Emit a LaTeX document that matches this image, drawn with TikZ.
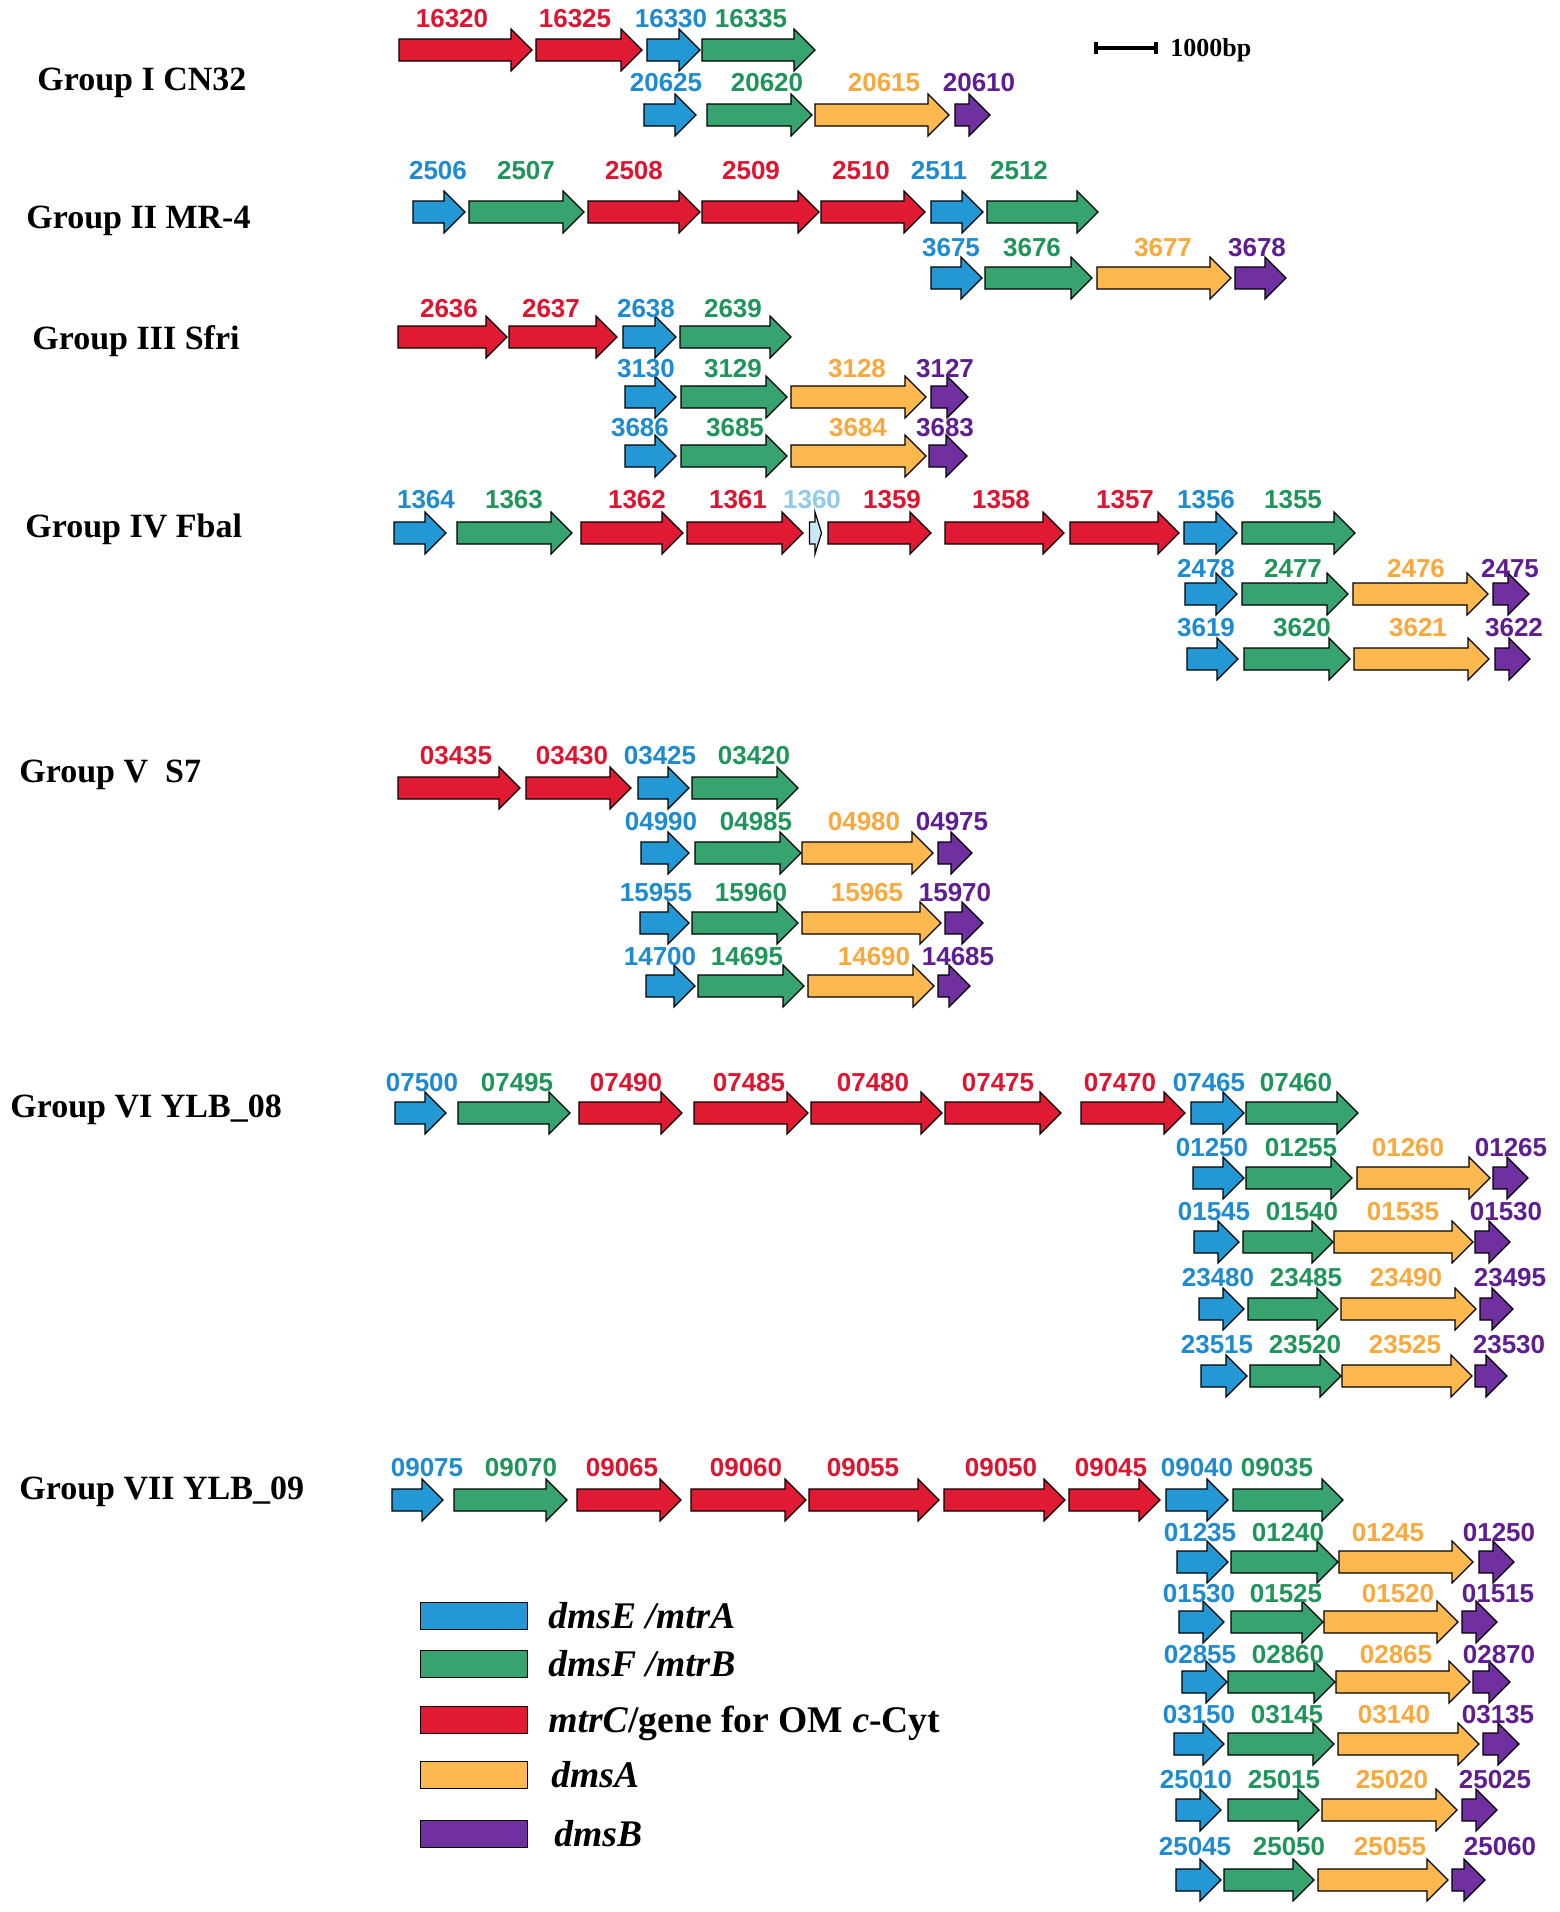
\documentclass[tikz,border=0pt]{standalone}
\usepackage{fontspec}
\setmainfont{Liberation Serif}
\newfontfamily\genefont{Liberation Sans}
\definecolor{cB}{HTML}{2498D5}
\definecolor{cG}{HTML}{37A46F}
\definecolor{cR}{HTML}{E01A33}
\definecolor{cO}{HTML}{FDB94F}
\definecolor{cP}{HTML}{7030A0}
\definecolor{cL}{HTML}{CBE7F6}
\definecolor{tB}{HTML}{1E8BD0}
\definecolor{tG}{HTML}{1F955A}
\definecolor{tR}{HTML}{DC1530}
\definecolor{tO}{HTML}{F9A83C}
\definecolor{tP}{HTML}{5E1E91}
\definecolor{tL}{HTML}{8FCBEA}
\tikzset{
  genearrow/.style={draw=black, line width=0.6pt, line join=miter},
  genelab/.style={font=\genefont\bfseries\fontsize{13}{13}\selectfont, anchor=base, inner sep=0pt},
  grouplab/.style={font=\bfseries\fontsize{17}{17}\selectfont, anchor=base west, inner sep=0pt},
  legbox/.style={draw=black, line width=0.8pt, minimum width=53.5pt, minimum height=13.5pt, inner sep=0pt},
  legtext/.style={font=\bfseries\fontsize{18.8}{18.8}\selectfont, anchor=base west, inner sep=0pt}
}
% #1 name, #2 colour key, #3 x start, #4 x tip, #5 y centre, #6 label, #7 label x, #8 label y
\newcommand\gn[8]{%
  \filldraw[genearrow, fill=c#2] (#3,#5-11) -- (#4-21,#5-11) -- (#4-21,#5-21) -- (#4,#5) -- (#4-21,#5+21) -- (#4-21,#5+11) -- (#3,#5+11) -- cycle;
  \node[genelab, text=t#2] (#1) at (#7,#8+9) {#6};
}
\begin{document}
\begin{tikzpicture}[x=0.5pt, y=-0.5pt]
\useasboundingbox[fill=white] (0,0) rectangle (1559,1912);

% group labels
\node[grouplab] (gI) at (37,90) {Group I CN32};
\node[grouplab] (gII) at (26,228) {Group II MR-4};
\node[grouplab] (gIII) at (32,349) {Group III Sfri};
\node[grouplab] (gIV) at (25,537) {Group IV Fbal};
\node[grouplab] (gV) at (19,782) {Group V\ \ S7};
\node[grouplab] (gVI) at (10,1117) {Group VI YLB\_08};
\node[grouplab] (gVII) at (19,1499) {Group VII YLB\_09};

% scale bar
\coordinate (sbL) at (1096,48);
\coordinate (sbR) at (1156,48);
\draw[line width=1.6pt] (sbL) -- (sbR);
\draw[line width=1.6pt] ([yshift=3pt]sbL) -- ([yshift=-3pt]sbL);
\draw[line width=1.6pt] ([yshift=3pt]sbR) -- ([yshift=-3pt]sbR);
\node[font=\bfseries\fontsize{13}{13}\selectfont, anchor=base west, inner sep=0pt] (sbt) at (1170,56) {1000bp};

% Group I
\gn{n16320}{R}{399}{532}{50}{16320}{452}{18}
\gn{n16325}{R}{536}{642}{50}{16325}{575}{18}
\gn{n16330}{B}{647}{700}{50}{16330}{671}{18}
\gn{n16335}{G}{702}{815}{50}{16335}{751}{18}
\gn{n20625}{B}{644}{696}{115}{20625}{666}{82}
\gn{n20620}{G}{707}{812}{115}{20620}{767}{82}
\gn{n20615}{O}{815}{949}{115}{20615}{884}{82}
\gn{n20610}{P}{955}{990}{115}{20610}{979}{82}

% Group II
\gn{n2506}{B}{413}{465}{212}{2506}{438}{170}
\gn{n2507}{G}{469}{584}{212}{2507}{526}{170}
\gn{n2508}{R}{588}{700}{212}{2508}{634}{170}
\gn{n2509}{R}{702}{819}{212}{2509}{751}{170}
\gn{n2510}{R}{821}{925}{212}{2510}{861}{170}
\gn{n2511}{B}{931}{983}{212}{2511}{939}{170}
\gn{n2512}{G}{987}{1098}{212}{2512}{1019}{170}
\gn{n3675}{B}{931}{982}{278}{3675}{951}{247}
\gn{n3676}{G}{985}{1092}{278}{3676}{1032}{247}
\gn{n3677}{O}{1097}{1231}{278}{3677}{1163}{247}
\gn{n3678}{P}{1235}{1286}{278}{3678}{1257}{247}

% Group III
\gn{n2636}{R}{398}{507}{337}{2636}{449}{308}
\gn{n2637}{R}{509}{617}{337}{2637}{551}{308}
\gn{n2638}{B}{623}{676}{337}{2638}{646}{308}
\gn{n2639}{G}{680}{791}{337}{2639}{733}{308}
\gn{n3130}{B}{625}{676}{397}{3130}{646}{368}
\gn{n3129}{G}{681}{787}{397}{3129}{733}{368}
\gn{n3128}{O}{791}{926}{397}{3128}{857}{368}
\gn{n3127}{P}{931}{968}{397}{3127}{945}{368}
\gn{n3686}{B}{625}{676}{456}{3686}{640}{427}
\gn{n3685}{G}{681}{787}{456}{3685}{735}{427}
\gn{n3684}{O}{791}{926}{456}{3684}{858}{427}
\gn{n3683}{P}{929}{967}{456}{3683}{945}{427}

% Group IV
\gn{n1364}{B}{394}{446}{533}{1364}{426}{499}
\gn{n1363}{G}{457}{572}{533}{1363}{514}{499}
\gn{n1362}{R}{581}{683}{533}{1362}{637}{499}
\gn{n1361}{R}{687}{803}{533}{1361}{738}{499}
\filldraw[genearrow, fill=cL] (809.5,522) -- (815,522) -- (815,512) -- (821.5,533) -- (815,554) -- (815,544) -- (809.5,544) -- cycle;
\node[genelab, text=tL] (n1360) at (812,508) {1360};
\gn{n1359}{R}{828}{931}{533}{1359}{892}{499}
\gn{n1358}{R}{945}{1064}{533}{1358}{1001}{499}
\gn{n1357}{R}{1070}{1179}{533}{1357}{1125}{499}
\gn{n1356}{B}{1184}{1237}{533}{1356}{1206}{499}
\gn{n1355}{G}{1242}{1355}{533}{1355}{1293}{499}
\gn{n2478}{B}{1185}{1237}{594}{2478}{1206}{568}
\gn{n2477}{G}{1242}{1348}{594}{2477}{1293}{568}
\gn{n2476}{O}{1353}{1488}{594}{2476}{1416}{568}
\gn{n2475}{P}{1493}{1529}{594}{2475}{1510}{568}
\gn{n3619}{B}{1187}{1238}{659}{3619}{1206}{627}
\gn{n3620}{G}{1244}{1350}{659}{3620}{1302}{627}
\gn{n3621}{O}{1354}{1489}{659}{3621}{1418}{627}
\gn{n3622}{P}{1495}{1530}{659}{3622}{1514}{627}

% Group V
\gn{n03435}{R}{398}{520}{788}{03435}{456}{755}
\gn{n03430}{R}{526}{631}{788}{03430}{572}{755}
\gn{n03425}{B}{638}{689}{788}{03425}{660}{755}
\gn{n03420}{G}{692}{798}{788}{03420}{754}{755}
\gn{n04990}{B}{641}{689}{853}{04990}{661}{821}
\gn{n04985}{G}{695}{801}{853}{04985}{756}{821}
\gn{n04980}{O}{802}{933}{853}{04980}{864}{821}
\gn{n04975}{P}{938}{972}{853}{04975}{952}{821}
\gn{n15955}{B}{640}{689}{923}{15955}{656}{892}
\gn{n15960}{G}{692}{798}{923}{15960}{751}{892}
\gn{n15965}{O}{802}{941}{923}{15965}{867}{892}
\gn{n15970}{P}{945}{983}{923}{15970}{955}{892}
\gn{n14700}{B}{646}{695}{986}{14700}{660}{956}
\gn{n14695}{G}{698}{804}{986}{14695}{747}{956}
\gn{n14690}{O}{808}{934}{986}{14690}{874}{956}
\gn{n14685}{P}{938}{970}{986}{14685}{958}{956}

% Group VI
\gn{n07500}{B}{395}{446}{1113}{07500}{422}{1082}
\gn{n07495}{G}{458}{570}{1113}{07495}{517}{1082}
\gn{n07490}{R}{579}{682}{1113}{07490}{626}{1082}
\gn{n07485}{R}{694}{808}{1113}{07485}{749}{1082}
\gn{n07480}{R}{811}{942}{1113}{07480}{873}{1082}
\gn{n07475}{R}{945}{1061}{1113}{07475}{998}{1082}
\gn{n07470}{R}{1081}{1185}{1113}{07470}{1120}{1082}
\gn{n07465}{B}{1191}{1244}{1113}{07465}{1209}{1082}
\gn{n07460}{G}{1246}{1358}{1113}{07460}{1296}{1082}
\gn{n01250}{B}{1193}{1244}{1178}{01250}{1212}{1147}
\gn{n01255}{G}{1246}{1352}{1178}{01255}{1301}{1147}
\gn{n01260}{O}{1357}{1490}{1178}{01260}{1408}{1147}
\gn{n01265}{P}{1493}{1528}{1178}{01265}{1511}{1147}
\gn{n01545}{B}{1194}{1239}{1242}{01545}{1214}{1211}
\gn{n01540}{G}{1243}{1333}{1242}{01540}{1302}{1211}
\gn{n01535}{O}{1334}{1473}{1242}{01535}{1403}{1211}
\gn{n01530}{P}{1475}{1510}{1242}{01530}{1506}{1211}
\gn{n23480}{B}{1199}{1244}{1309}{23480}{1218}{1277}
\gn{n23485}{G}{1248}{1338}{1309}{23485}{1306}{1277}
\gn{n23490}{O}{1341}{1476}{1309}{23490}{1406}{1277}
\gn{n23495}{P}{1480}{1513}{1309}{23495}{1510}{1277}
\gn{n23515}{B}{1201}{1247}{1376}{23515}{1217}{1344}
\gn{n23520}{G}{1250}{1341}{1376}{23520}{1305}{1344}
\gn{n23525}{O}{1342}{1472}{1376}{23525}{1405}{1344}
\gn{n23530}{P}{1475}{1507}{1376}{23530}{1509}{1344}

% Group VII
\gn{n09075}{B}{392}{443}{1500}{09075}{427}{1467}
\gn{n09070}{G}{454}{567}{1500}{09070}{521}{1467}
\gn{n09065}{R}{577}{681}{1500}{09065}{622}{1467}
\gn{n09060}{R}{691}{806}{1500}{09060}{746}{1467}
\gn{n09055}{R}{809}{939}{1500}{09055}{863}{1467}
\gn{n09050}{R}{944}{1065}{1500}{09050}{1001}{1467}
\gn{n09045}{R}{1069}{1160}{1500}{09045}{1111}{1467}
\gn{n09040}{B}{1166}{1228}{1500}{09040}{1197}{1467}
\gn{n09035}{G}{1233}{1343}{1500}{09035}{1277}{1467}
\gn{m01235}{B}{1177}{1228}{1562}{01235}{1200}{1532}
\gn{m01240}{G}{1231}{1338}{1562}{01240}{1288}{1532}
\gn{m01245}{O}{1339}{1473}{1562}{01245}{1388}{1532}
\gn{m01250}{P}{1479}{1514}{1562}{01250}{1499}{1532}
\gn{m01530}{B}{1179}{1224}{1622}{01530}{1199}{1593}
\gn{m01525}{G}{1231}{1323}{1622}{01525}{1286}{1593}
\gn{m01520}{O}{1324}{1458}{1622}{01520}{1398}{1593}
\gn{m01515}{P}{1462}{1497}{1622}{01515}{1498}{1593}
\gn{m02855}{B}{1182}{1227}{1682}{02855}{1200}{1654}
\gn{m02860}{G}{1228}{1335}{1682}{02860}{1288}{1654}
\gn{m02865}{O}{1336}{1470}{1682}{02865}{1396}{1654}
\gn{m02870}{P}{1473}{1510}{1682}{02870}{1499}{1654}
\gn{m03150}{B}{1174}{1224}{1744}{03150}{1199}{1714}
\gn{m03145}{G}{1228}{1334}{1744}{03145}{1287}{1714}
\gn{m03140}{O}{1338}{1479}{1744}{03140}{1394}{1714}
\gn{m03135}{P}{1483}{1519}{1744}{03135}{1498}{1714}
\gn{m25010}{B}{1176}{1221}{1810}{25010}{1196}{1779}
\gn{m25015}{G}{1228}{1319}{1810}{25015}{1284}{1779}
\gn{m25020}{O}{1322}{1457}{1810}{25020}{1392}{1779}
\gn{m25025}{P}{1462}{1497}{1810}{25025}{1495}{1779}
\gn{m25045}{B}{1176}{1221}{1880}{25045}{1195}{1846}
\gn{m25050}{G}{1224}{1314}{1880}{25050}{1289}{1846}
\gn{m25055}{O}{1318}{1448}{1880}{25055}{1390}{1846}
\gn{m25060}{P}{1452}{1485}{1880}{25060}{1500}{1846}

% legend
\node[legbox, fill=cB] (lb1) at (474,1616) {};
\node[legbox, fill=cG] (lb2) at (474,1664) {};
\node[legbox, fill=cR] (lb3) at (474,1720) {};
\node[legbox, fill=cO] (lb4) at (474,1775) {};
\node[legbox, fill=cP] (lb5) at (474,1834) {};
\node[legtext] (lt1) at (548,1628) {\itshape dmsE /mtrA};
\node[legtext] (lt2) at (548,1676) {\itshape dmsF /mtrB};
\node[legtext] (lt3) at (548,1732) {\textit{mtrC\/}/gene for OM \textit{c}-Cyt};
\node[legtext] (lt4) at (551,1787) {\itshape dmsA};
\node[legtext] (lt5) at (554,1846) {\itshape dmsB};
\end{tikzpicture}
\end{document}
